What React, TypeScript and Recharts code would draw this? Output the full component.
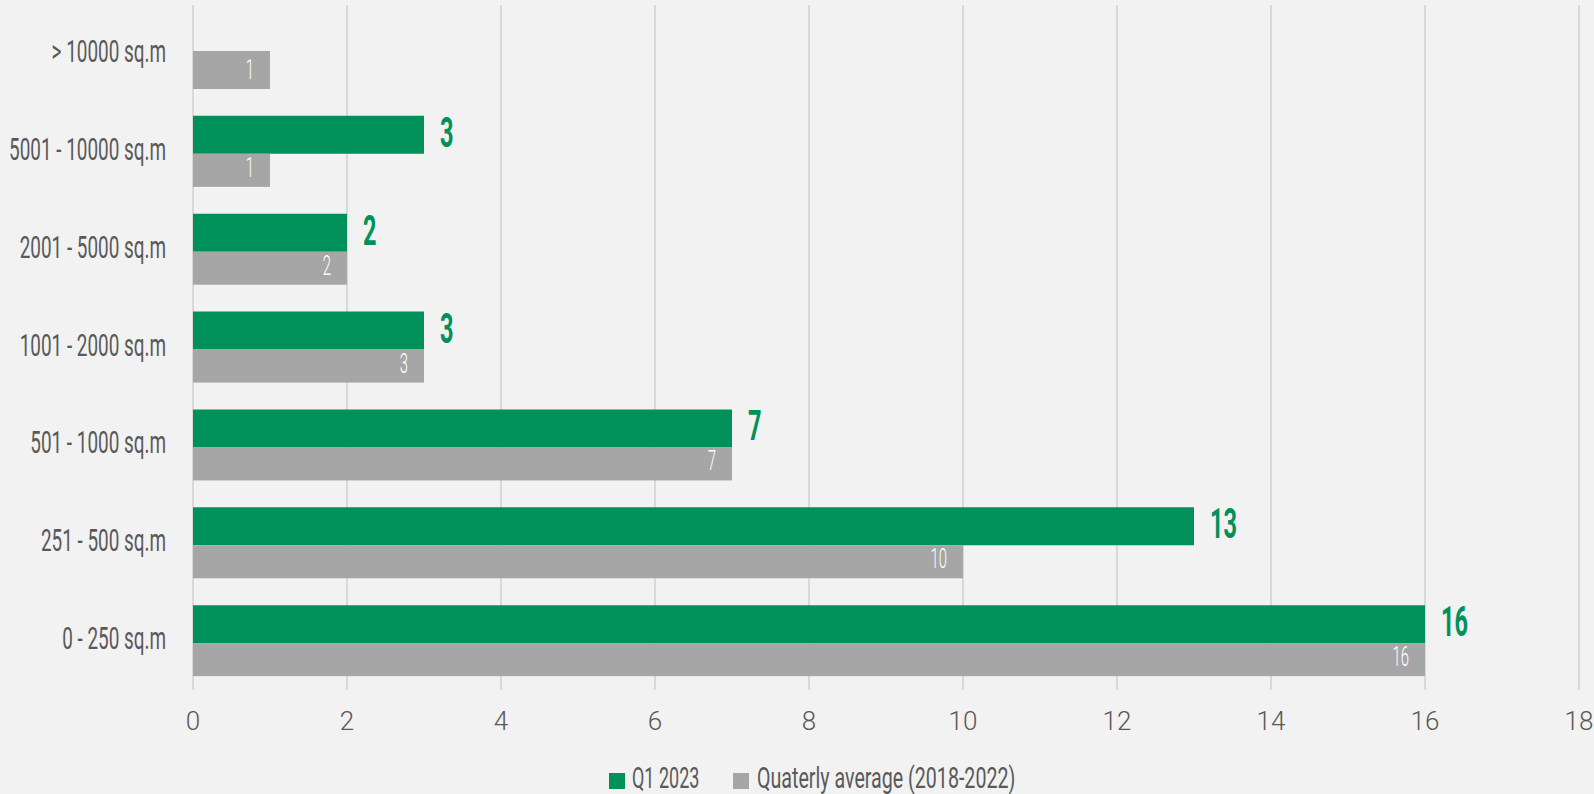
import { BarChart, Bar, XAxis, YAxis, CartesianGrid, Legend, LabelList } from 'recharts'

// ── Datos ─────────────────────────────────────────────────────────────────────
const categories = [
  '> 10000 sq.m',
  '5001 - 10000 sq.m',
  '2001 - 5000 sq.m',
  '1001 - 2000 sq.m',
  '501 - 1000 sq.m',
  '251 - 500 sq.m',
  '0 - 250 sq.m',
]
const q1Values: (number | null)[] = [null, 3, 2, 3, 7, 13, 16]
const avgValues = [1, 1, 2, 3, 7, 10, 16]
const xTicks = [0, 2, 4, 6, 8, 10, 12, 14, 16, 18]

const seriesNames = ['Q1 2023', 'Quaterly average (2018-2022)']

const GREEN = '#00915a'
const GRAY = '#a6a6a6'
const TEXT = '#595959'
const FONT = 'Roboto, "Noto Sans", sans-serif'

const rows = categories.map((cat, i) => ({ cat, q1: q1Values[i], avg: avgValues[i] }))

// ── Ticks ─────────────────────────────────────────────────────────────────────
function CatTick({ x, y, payload }: any) {
  return (
    <text
      transform={`translate(${x},${y + 8}) scale(0.61,1)`}
      textAnchor="end"
      fontFamily={FONT}
      fontSize={31}
      fill={TEXT}
    >
      {payload.value}
    </text>
  )
}

function NumTick({ x, y, payload }: any) {
  return (
    <text x={x} y={y + 40} textAnchor="middle" fontFamily={FONT} fontWeight={300} fontSize={26} fill={TEXT}>
      {payload.value}
    </text>
  )
}

// ── Etiquetas ─────────────────────────────────────────────────────────────────
function GreenLabel({ x, y, width, value }: any) {
  if (value == null) return null
  return (
    <text
      transform={`translate(${x + width + 16},${y + 31}) scale(0.56,1)`}
      fontFamily={FONT}
      fontWeight={700}
      fontSize={42}
      fill={GREEN}
    >
      {value}
    </text>
  )
}

function GrayLabel({ x, y, width, height, value }: any) {
  return (
    <text
      transform={`translate(${x + width - 16},${y + height / 2 + 9}) scale(0.55,1)`}
      textAnchor="end"
      fontFamily={FONT}
      fontWeight={300}
      fontSize={27}
      fill="#ffffff"
    >
      {value}
    </text>
  )
}

// la barra gris queda parcialmente tapada por la verde
function GrayShape({ x, y, width, height, payload }: any) {
  const cut = payload && payload.q1 ? 5 : 0
  return <rect x={x} y={y + cut} width={width} height={height - cut} fill={GRAY} />
}

// ── Leyenda ───────────────────────────────────────────────────────────────────
function LegendBox() {
  return (
    <svg width={1594} height={64} style={{ display: 'block' }}>
      <rect x={609} y={43} width={16} height={16} fill={GREEN} />
      <text transform="translate(632,58) scale(0.6,1)" fontFamily={FONT} fontSize={30} fill={TEXT}>
        {seriesNames[0]}
      </text>
      <rect x={733} y={43} width={16} height={16} fill={GRAY} />
      <text transform="translate(757,58) scale(0.655,1)" fontFamily={FONT} fontSize={30} fill={TEXT}>
        {seriesNames[1]}
      </text>
    </svg>
  )
}

export default function App() {
  return (
    <div style={{ position: 'absolute', left: 0, top: 0, width: 1594, height: 794, background: '#f2f2f2' }}>
      <BarChart
        width={1594}
        height={794}
        data={rows}
        layout="vertical"
        margin={{ top: 5, right: 15, left: 0, bottom: 0 }}
        barGap={-5}
      >
        <CartesianGrid horizontal={false} stroke="#d9d9d9" strokeWidth={2} />
        <XAxis
          type="number"
          domain={[0, 18]}
          ticks={xTicks}
          tick={<NumTick />}
          tickLine={false}
          axisLine={false}
          tickSize={0}
          tickMargin={0}
          height={40}
        />
        <YAxis
          type="category"
          dataKey="cat"
          tick={<CatTick />}
          tickLine={false}
          axisLine={false}
          tickSize={0}
          tickMargin={27}
          width={193}
        />
        <Legend verticalAlign="bottom" content={<LegendBox />} wrapperStyle={{ left: 0, width: 1594, height: 64 }} />
        <Bar dataKey="q1" name={seriesNames[0]} fill={GREEN} barSize={38} isAnimationActive={false}>
          <LabelList dataKey="q1" content={<GreenLabel />} />
        </Bar>
        <Bar dataKey="avg" name={seriesNames[1]} fill={GRAY} barSize={38} shape={<GrayShape />} isAnimationActive={false}>
          <LabelList dataKey="avg" content={<GrayLabel />} />
        </Bar>
      </BarChart>
    </div>
  )
}
